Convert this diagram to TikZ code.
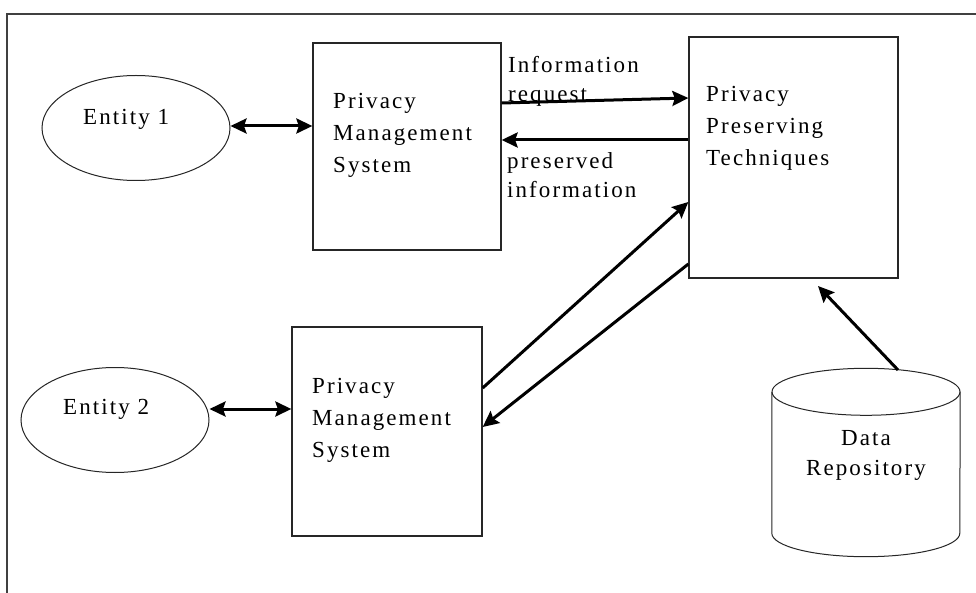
\documentclass[tikz,border=0pt]{standalone}
\usepackage{fontspec}
\setmainfont[LetterSpace=9]{Liberation Serif}
\usetikzlibrary{arrows.meta,shapes.geometric,calc}

\tikzset{
  frameline/.style={draw=black!75, line width=1.8pt},
  sysbox/.style={draw=black!85, line width=1.3pt, rectangle, inner sep=0pt},
  entity/.style={draw=black!85, line width=1pt, ellipse, inner sep=0pt,
                 minimum width=188pt, minimum height=105pt},
  txt/.style={inner sep=0pt, font=\fontsize{23}{32}\selectfont, align=left},
  lbl/.style={inner sep=0pt, font=\fontsize{23}{29.5}\selectfont, align=left},
  tip/.style={Stealth[length=16pt,width=15pt,inset=2.5pt]},
  flow/.style={line width=3pt, -{Stealth[length=16pt,width=15pt,inset=2.5pt]}},
  dflow/.style={line width=3pt, {Stealth[length=16pt,width=15pt,inset=2.5pt]}-{Stealth[length=16pt,width=15pt,inset=2.5pt]}},
}

\begin{document}
\begin{tikzpicture}[x=1pt,y=-1pt]
  \useasboundingbox (0,0) rectangle (976,593);
  \fill[white] (0,0) rectangle (976,593);

  % outer frame
  \draw[frameline] (7,600) -- (7,14) -- (990,14);

  % entities
  \node[entity] (e1) at (136,128) {};
  \node[txt, anchor=base west] (e1t) at (83,125) {Entity 1};
  \node[entity] (e2) at (115,420) {};
  \node[txt, anchor=base west] (e2t) at (63,414) {Entity 2};

  % systems (text nodes are anchored at the baseline of their last line)
  \node[sysbox, minimum width=188pt, minimum height=207pt] (pms1) at (407,146.5) {};
  \node[txt, anchor=base west] (pms1t) at (333,173) {Privacy\\Management\\System};
  \node[sysbox, minimum width=190pt, minimum height=209pt] (pms2) at (387,431.5) {};
  \node[txt, anchor=base west] (pms2t) at (312,457) {Privacy\\Management\\System};
  \node[sysbox, minimum width=209pt, minimum height=241pt] (ppt) at (793.5,157.5) {};
  \node[txt, anchor=base west] (pptt) at (706,166) {Privacy\\Preserving\\Techniques};

  % data repository (cylinder)
  \node[inner sep=0pt, minimum width=188pt, minimum height=141pt] (db) at (866,462.5) {};
  \draw[black!85, line width=1pt] (db.north) ellipse [x radius=94pt, y radius=23.5pt];
  \draw[black!85, line width=1pt] (db.north west) -- (db.south west)
      arc[start angle=180, end angle=360, x radius=94pt, y radius=23.5pt] -- (db.north east);
  \node[txt, align=center, anchor=base, font=\fontsize{23}{30}\selectfont] (dbt) at (866,475) {Data\\Repository};
  \coordinate (dbtop) at (898,370);
  \coordinate (dbin) at (818,286);

  % flow labels
  \node[lbl, anchor=base west] (req) at (508,102) {Information\\request};
  \node[lbl, anchor=base west] (pres) at (507,198) {preserved\\information};

  % connectors
  \draw[dflow] (e1.east |- 0,126) -- (pms1.west |- 0,126);
  \draw[dflow] (e2.east |- 0,409) -- (pms2.west |- 0,409);
  \draw[flow] (pms1.east |- 0,103) -- (ppt.west |- 0,98);
  \draw[flow] (ppt.west |- 0,140) -- (pms1.east |- 0,140);
  \draw[flow] (pms2.east |- 0,388) -- (ppt.west |- 0,202);
  \draw[flow] (ppt.west |- 0,264) -- (pms2.east |- 0,427);
  \draw[flow] (dbtop) -- (dbin);
\end{tikzpicture}
\end{document}
